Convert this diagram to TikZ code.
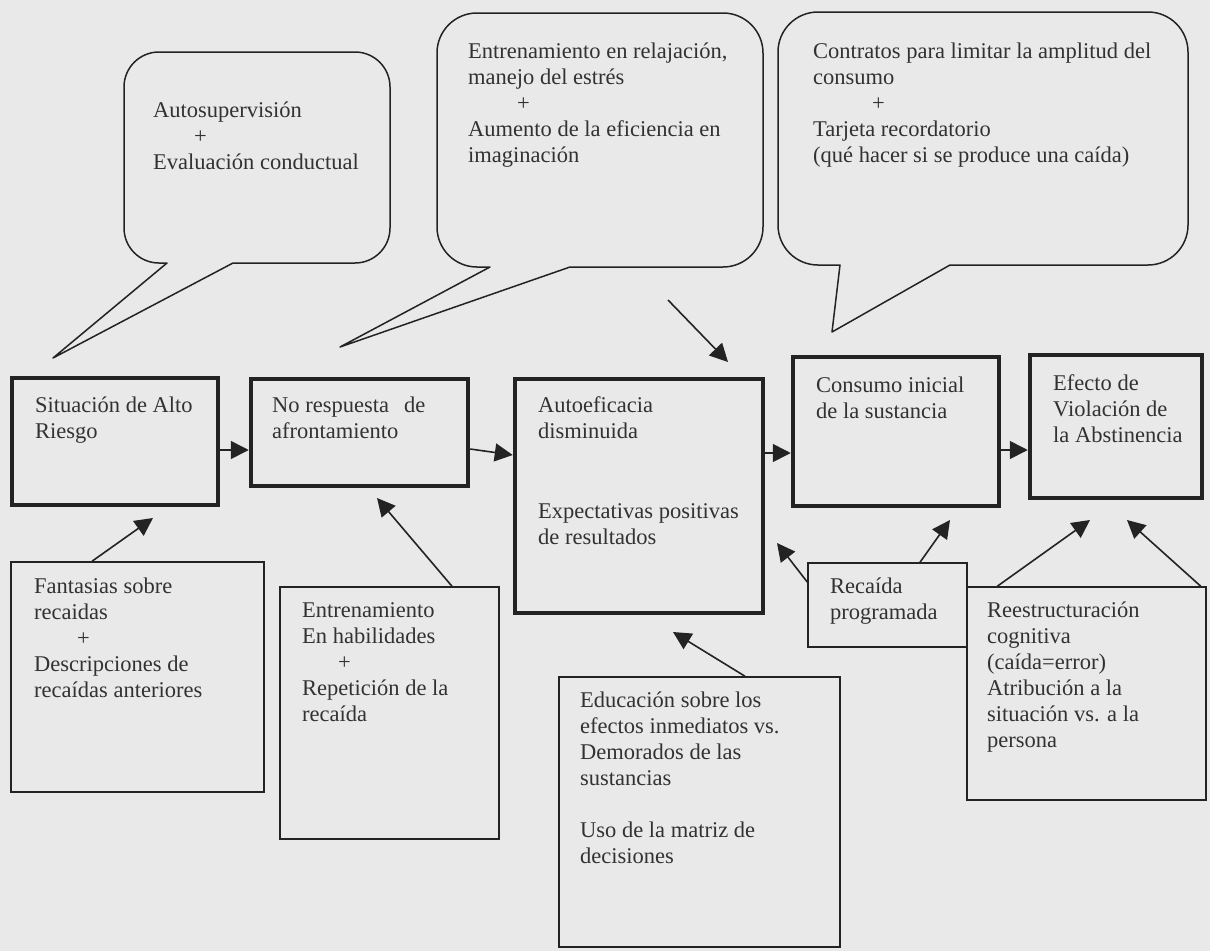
\documentclass[tikz,border=0pt]{standalone}
\usepackage{fontspec}
\setmainfont{Liberation Serif}
\usetikzlibrary{arrows.meta,calc}
\definecolor{bg}{RGB}{233,233,233}
\definecolor{ink}{RGB}{35,35,35}
\definecolor{txtc}{RGB}{50,50,50}

\begin{document}
\begin{tikzpicture}[x=1pt,y=-1pt,
  heavybox/.style={draw=ink, line width=4.5pt, rectangle, inner sep=0pt},
  lightbox/.style={draw=ink, line width=1.5pt, fill=bg, rectangle, inner sep=0pt},
  bubble/.style={draw=ink, line width=1.5pt, line join=round},
  txtblock/.style={anchor=north west, inner sep=0pt, align=left, text=txtc,
                   font=\fontsize{22.5}{26}\selectfont},
  conn/.style={draw=ink, line width=1.6pt, -{Triangle[length=18pt,width=18pt]}},
]
% page
\fill[bg] (0,0) rectangle (1210,951);
\useasboundingbox (0,0) rectangle (1210,951);

% callout balloons
\coordinate (tip1) at (53,358);
\coordinate (tip2) at (340,347);
\coordinate (tip3) at (832,332);
\draw[bubble] (167,263) -- (tip1) -- (233,263) [rounded corners=35pt] -- (390,263)
  -- (390,52) -- (124,52) -- (124,263) [sharp corners] -- cycle;
\draw[bubble] (490,267) -- (tip2) -- (570,267) [rounded corners=40pt] -- (763,267)
  -- (763,13) -- (437,13) -- (437,267) [sharp corners] -- cycle;
\draw[bubble] (840,265) -- (tip3) -- (950,265) [rounded corners=40pt] -- (1188,265)
  -- (1188,12) -- (778,12) -- (778,265) [sharp corners] -- cycle;

\node[txtblock] (c1txt) at (153,98.8) {\strut Autosupervisión\\\hspace*{41pt}+\\Evaluación conductual};
\node[txtblock] (c2txt) at (468,39.8) {\strut Entrenamiento en relajación,\\manejo del estrés\\\hspace*{49pt}+\\Aumento de la eficiencia en\\imaginación};
\node[txtblock] (c3txt) at (813,39.8) {\strut Contratos para limitar la amplitud del\\consumo\\\hspace*{59pt}+\\Tarjeta recordatorio\\(qué hacer si se produce una caída)};

% main sequence
\node[heavybox, minimum width=206pt, minimum height=127pt] (sit) at (115,441.5) {};
\node[heavybox, minimum width=217pt, minimum height=107pt] (nor) at (359.5,432.5) {};
\node[heavybox, minimum width=248pt, minimum height=234pt] (aut) at (639,496) {};
\node[heavybox, minimum width=206pt, minimum height=149pt] (con) at (896,431.5) {};
\node[heavybox, minimum width=172pt, minimum height=143pt] (efe) at (1116,426.5) {};

\node[txtblock] (sittxt) at (35,393.8) {\strut Situación de Alto\\Riesgo};
\node[txtblock] (nortxt) at (272,393.8) {\strut No respuesta\hspace{15pt}de\\afrontamiento};
\node[txtblock] (auttxt) at (538,393.8) {\strut Autoeficacia\\disminuida\\[54pt]Expectativas positivas\\de resultados};
\node[txtblock] (contxt) at (816,373.8) {\strut Consumo inicial\\de la sustancia};
\node[txtblock] (efetxt) at (1053,371.8) {\strut Efecto de\\Violación de\\la Abstinencia};

% interventions
\node[lightbox, minimum width=253pt, minimum height=230pt] (fan) at (137.5,677) {};
\node[lightbox, minimum width=219pt, minimum height=252pt] (ent) at (389.5,713) {};
\node[lightbox, minimum width=281pt, minimum height=270pt] (edu) at (699.5,812) {};
\node[lightbox, minimum width=239pt, minimum height=213pt] (ree) at (1086.5,693.5) {};
\node[lightbox, minimum width=159pt, minimum height=84pt] (rec) at (887.5,605) {};

\node[txtblock] (fantxt) at (34,574.8) {\strut Fantasias sobre\\recaidas\\\hspace*{43pt}+\\Descripciones de\\recaídas anteriores};
\node[txtblock] (enttxt) at (302,598.8) {\strut Entrenamiento\\En habilidades\\\hspace*{36pt}+\\Repetición de la\\recaída};
\node[txtblock] (edutxt) at (580,688.8) {\strut Educación sobre los\\efectos inmediatos vs.\\Demorados de las\\sustancias\\[26pt]Uso de la matriz de\\decisiones};
\node[txtblock] (rectxt) at (830,574.8) {\strut Recaída\\programada};
\node[txtblock] (reetxt) at (987,598.8) {\strut Reestructuración\\cognitiva\\(caída=error)\\Atribución a la\\situación vs. a la\\persona};

% free arrow ends
\coordinate (t5) at (153,518);
\coordinate (t6) at (377,498);
\coordinate (t7) at (673,632);
\coordinate (t8) at (777,543);
\coordinate (t9) at (950,520);
\coordinate (t10) at (1090,520);
\coordinate (t11) at (1127,520);
\coordinate (s12) at (668,300);
\coordinate (t12) at (728,362);

% connectors
\draw[conn] ($(sit.east)+(0,8.5)$) -- ($(nor.west)+(0,17.5)$);
\draw[conn] ($(nor.east)+(0,16.5)$) -- ($(aut.west)+(0,-41)$);
\draw[conn] ($(aut.east)+(0,-43)$) -- ($(con.west)+(0,21.5)$);
\draw[conn] ($(con.east)+(0,18.5)$) -- ($(efe.west)+(0,23.5)$);
\draw[conn] ($(fan.north)+(-45.5,0)$) -- (t5);
\draw[conn] ($(ent.north)+(62.5,0)$) -- (t6);
\draw[conn] ($(edu.north)+(45.5,0)$) -- (t7);
\draw[conn] ($(rec.west)+(0,-23)$) -- (t8);
\draw[conn] ($(rec.north)+(32.5,0)$) -- (t9);
\draw[conn] ($(ree.north west)+(31,0)$) -- (t10);
\draw[conn] ($(ree.north east)+(-6,0)$) -- (t11);
\draw[conn] (s12) -- (t12);
\end{tikzpicture}
\end{document}
